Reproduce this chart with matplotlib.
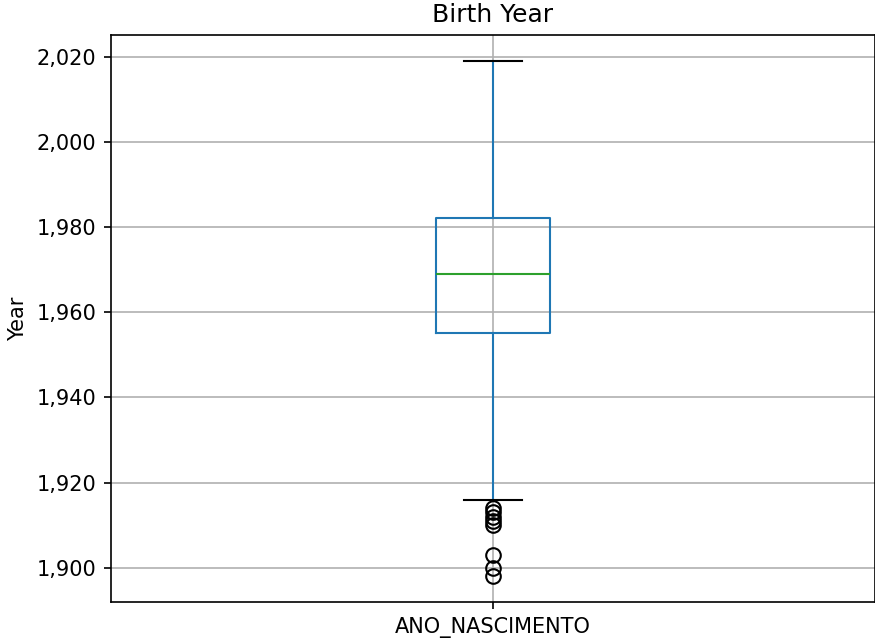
import matplotlib.pyplot as plt
from matplotlib.ticker import StrMethodFormatter

# Resumo do boxplot do ano de nascimento
coluna = 'ANO_NASCIMENTO'
quartil_1 = 1955
mediana = 1969
quartil_3 = 1982
bigode_inf = 1916
bigode_sup = 2019
outliers = [1914, 1913, 1912, 1911, 1910, 1903, 1900, 1898]

stats = [{
    'label': coluna,
    'q1': quartil_1,
    'med': mediana,
    'q3': quartil_3,
    'whislo': bigode_inf,
    'whishi': bigode_sup,
    'fliers': outliers,
}]

fig = plt.figure(figsize=(875 / 150, 639 / 150), dpi=150)
ax = fig.add_axes([111 / 875, 1 - 602 / 639, 764 / 875, 567 / 639])

ax.bxp(
    stats,
    boxprops=dict(color='#1f77b4'),
    whiskerprops=dict(color='#1f77b4'),
    capprops=dict(color='black'),
    medianprops=dict(color='#2ca02c'),
    flierprops=dict(marker='o', markersize=7, markerfacecolor='none',
                    markeredgecolor='black'),
)

ax.grid(True)
ax.set_axisbelow(True)
ax.yaxis.set_major_formatter(StrMethodFormatter('{x:,.0f}'))
ax.set_title('Birth Year')
ax.set_ylabel('Year')

fig.savefig('out.png', dpi=150)
